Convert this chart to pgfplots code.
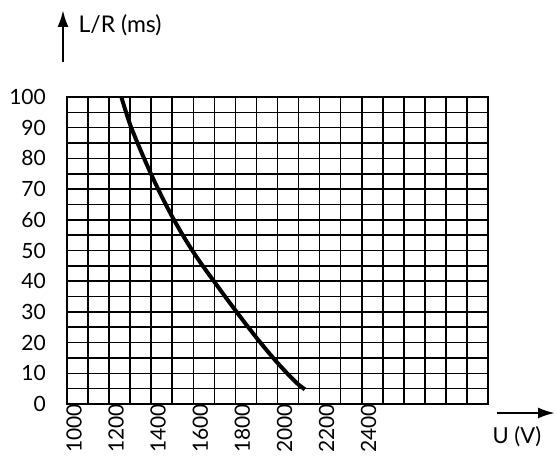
\documentclass[border=0pt]{standalone}
\usepackage{fontspec}
\setmainfont{Lato}
\usepackage{pgfplots}
\pgfplotsset{compat=1.18}
\usetikzlibrary{arrows.meta}

% time constant L/R against voltage U
\pgfplotstableread{
U     LR
1258  100
1300  91
1350  82.6
1400  74.8
1450  67.6
1500  61
1550  55
1600  49.5
1650  44.5
1700  39.8
1750  35.1
1800  30.5
1850  26
1900  21.6
1950  17.4
2000  13.4
2050  9.7
2100  6.3
2130  4.8
}\curvedata

\begin{document}
\begin{tikzpicture}[x=1pt,y=1pt]
\begin{axis}[
  at={(0,0)}, anchor=south west,
  scale only axis, width=421pt, height=307pt,
  xmin=1000, xmax=3000, ymin=0, ymax=100,
  xtick={1000,1200,...,2400},
  minor xtick={1100,1300,...,2300},
  extra x ticks={2500,2600,...,2900},
  extra x tick labels={},
  extra x tick style={grid style={gray!70, line width=1.6pt}},
  ytick={0,10,...,100},
  minor ytick={5,15,...,95},
  grid=both,
  major grid style={black, line width=1.6pt},
  minor grid style={black, line width=1.6pt},
  major tick length=0pt, minor tick length=0pt,
  axis line style={black, line width=1.6pt},
  /pgf/number format/assume math mode=true,
  /pgf/number format/1000 sep={},
  tick label style={font=\fontsize{21}{24}\selectfont},
  xticklabel style={xshift=3pt, rotate=90, anchor=east, inner sep=0pt, yshift=-4pt},
  yticklabel style={anchor=east, inner sep=0pt, xshift=-21pt},
  clip=false,
]
\addplot[black, line width=4pt, smooth] table[x=U, y=LR] {\curvedata};
\end{axis}
% axis arrows and titles
\draw[line width=2.4pt, -{Latex[length=17pt,width=11pt]}] (-4,342) -- (-4,394);
\node[anchor=west, font=\fontsize{23}{26}\selectfont] at (8,379) {L/R (ms)};
\draw[line width=2.4pt, -{Latex[length=17pt,width=11pt]}] (430,-9) -- (488,-9);
\node[font=\fontsize{22}{25}\selectfont] at (450,-33) {U (V)};
\pgfresetboundingbox
\useasboundingbox (-67,-62) rectangle (490,404);
\end{tikzpicture}
\end{document}
